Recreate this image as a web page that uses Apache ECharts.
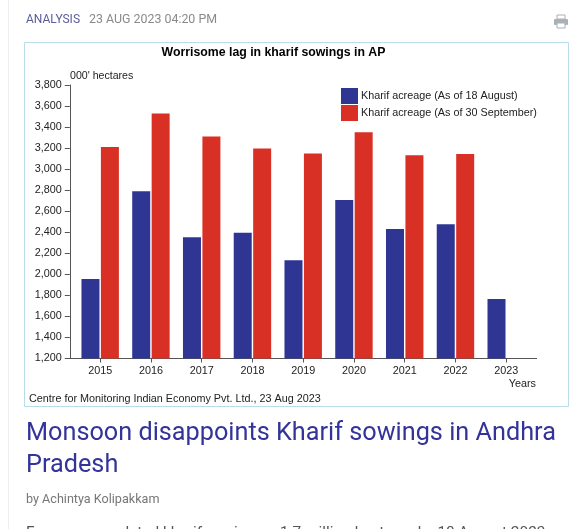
<!DOCTYPE html>
<html><head><meta charset="utf-8">
<style>html,body{margin:0;padding:0;background:#fff}#c{width:574px;height:529px}</style>
<script src="https://cdn.jsdelivr.net/npm/echarts@6/dist/echarts.min.js"></script>
</head><body><div id="c"></div>
<script>
const years=['2015','2016','2017','2018','2019','2020','2021','2022','2023'];
const asOf18Aug=[1955,2790,2352,2396,2133,2707,2431,2476,1765];
const asOf30Sep=[3210,3530,3310,3197,3150,3350,3132,3145,null];
const seriesNames=['Kharif acreage (As of 18 August)','Kharif acreage (As of 30 September)'];
const chartFont='"Liberation Sans",Arial,sans-serif';
const chart=echarts.init(document.getElementById('c'),null,{renderer:'canvas'});
function txt(x,y,t,font,fill,align){return {type:'text',x:x,y:y,silent:true,style:{text:t,font:font,fill:fill,align:align||'left',verticalAlign:'middle'}};}
chart.setOption({
 animation:false,backgroundColor:'#fff',
 title:{text:'Worrisome lag in kharif sowings in AP',left:273.5,top:47,textAlign:'center',padding:0,
  textStyle:{fontFamily:chartFont,fontSize:12.3,fontWeight:'bold',color:'#000'}},
 legend:{left:341,top:88,padding:0,orient:'vertical',itemWidth:17,itemHeight:16,itemGap:1,icon:'rect',
  data:seriesNames,textStyle:{fontFamily:chartFont,fontSize:10.8,color:'#222',padding:[3,0,0,-2]}},
 grid:{left:74.8,width:456.8,top:85,height:273.5},
 xAxis:{type:'category',data:years,axisLine:{show:false},
  axisTick:{show:true,alignWithLabel:true,length:4,lineStyle:{color:'#555'}},
  axisLabel:{fontFamily:chartFont,fontSize:10.8,color:'#222',margin:7}},
 yAxis:{type:'value',min:1200,max:3800,interval:200,offset:5,
  axisLine:{show:true,lineStyle:{color:'#555'}},splitLine:{show:false},
  axisTick:{show:true,length:5,lineStyle:{color:'#555'}},
  axisLabel:{fontFamily:chartFont,fontSize:10.8,color:'#222',margin:8,
   formatter:v=>v.toLocaleString('en-US')}},
 series:[
  {name:seriesNames[0],type:'bar',data:asOf18Aug,barWidth:18,barGap:'8%',itemStyle:{color:'#2f3592'}},
  {name:seriesNames[1],type:'bar',data:asOf30Sep,barWidth:18,barGap:'8%',itemStyle:{color:'#d93026'}}
 ],
 graphic:[
  {type:'line',silent:true,z:-1,shape:{x1:8.5,y1:0,x2:8.5,y2:529},style:{stroke:'#eeeeee',lineWidth:1}},
  {type:'rect',silent:true,z:-1,shape:{x:24.5,y:42.5,width:544,height:364},style:{stroke:'#b9dde8',fill:null,lineWidth:1}},
  {type:'line',silent:true,shape:{x1:65,y1:358.5,x2:537,y2:358.5},style:{stroke:'#555',lineWidth:1}},
  txt(26,20,'ANALYSIS','12px Roboto','#5c5c9c'),
  txt(89,20,'23 AUG 2023 04:20 PM','12.4px Roboto','#8a8a8a'),
  txt(70,76,"000' hectares",'10.6px '+chartFont,'#222'),
  txt(536,384,'Years','10.8px '+chartFont,'#222','right'),
  txt(29,399,'Centre for Monitoring Indian Economy Pvt. Ltd., 23 Aug 2023','10.8px '+chartFont,'#222'),
  txt(26,434,'Monsoon disappoints Kharif sowings in Andhra','25.25px Roboto','#333399'),
  txt(26,466,'Pradesh','25.25px Roboto','#333399'),
  txt(26,499.5,'by Achintya Kolipakkam','12.6px Roboto','#777'),
  txt(26,533,'Farmers completed kharif sowing on 1.7 million hectares by 18 August 2023','15.4px Roboto','#555'),
  {type:'group',x:554,y:15,silent:true,children:[
   {type:'rect',shape:{x:3,y:0,width:8,height:4},style:{fill:'#fff',stroke:'#a8b0b8',lineWidth:1}},
   {type:'rect',shape:{x:0,y:4,width:14,height:6,r:1},style:{fill:'#a8b0b8'}},
   {type:'rect',shape:{x:3,y:8,width:8,height:5},style:{fill:'#fff',stroke:'#a8b0b8',lineWidth:1}}
  ]}
 ]
});
</script></body></html>
